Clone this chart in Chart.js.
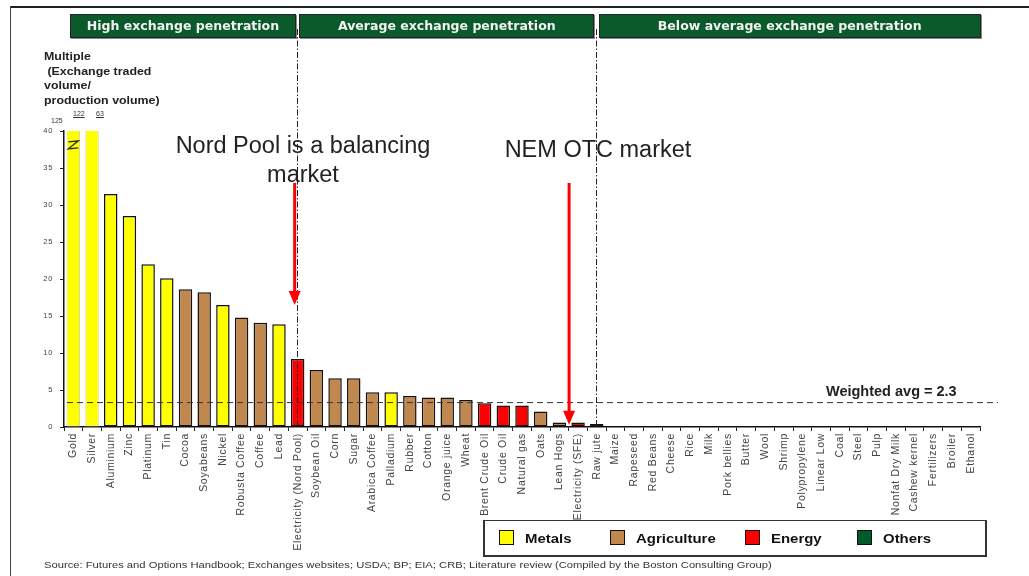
<!DOCTYPE html>
<html>
<head>
<meta charset="utf-8">
<script src="https://cdn.jsdelivr.net/npm/chart.js@4/dist/chart.umd.min.js"></script>
<style>
  body { margin: 0; background: #fff; font-family: 'Liberation Sans', Arial, sans-serif; }
  #wrap { position: relative; width: 1029px; height: 576px; overflow: hidden; }
  #chart { position: absolute; left: 0; top: 0; }
  .frame-top { position: absolute; left: 10px; top: 6px; width: 1019px; height: 2px; background: #222; }
  .frame-left { position: absolute; left: 10px; top: 6px; width: 1px; height: 570px; background: #444; }
  .hdr { position: absolute; top: 14px; height: 22px; background: #0b5a2c; border: 1px solid #222;
         box-shadow: 1px 1px 0 #888; color: #f2f2f2; font-family: 'DejaVu Sans Condensed', 'DejaVu Sans', sans-serif;
         font-weight: bold; font-size: 12px; line-height: 22px; text-align: center; }
  .hdr span { display: inline-block; transform: scaleX(1.16); }
  .ytitle { position: absolute; left: 44px; top: 49px; font-weight: bold; font-size: 10.5px; line-height: 14.5px;
            color: #222; white-space: pre; transform: scaleX(1.18); transform-origin: left top; }
  .small { position: absolute; font-size: 7px; color: #333; }
  .u { text-decoration: underline; }
  .note { position: absolute; font-size: 23.5px; color: #222; text-align: center; line-height: 29px; }
  .avg { position: absolute; left: 826px; top: 383px; font-size: 14.5px; font-weight: bold; color: #222; }
  .legend { position: absolute; left: 483px; top: 520px; width: 500px; height: 34px; border: 2px solid #333; border-top-width: 1px; }
  .item { position: absolute; top: 9px; font-weight: bold; font-size: 13px; color: #111; line-height: 16px; }
  .item b { display: inline-block; transform: scaleX(1.15); transform-origin: left center; }
  .sw { display: inline-block; width: 13px; height: 13px; border: 1px solid #111; vertical-align: -2px; margin-right: 11px; }
  .source { position: absolute; left: 44px; top: 559px; font-size: 9.5px; color: #333; white-space: nowrap;
            transform: scaleX(1.18); transform-origin: left top; }
</style>
</head>
<body>
<div id="wrap">
  <canvas id="chart" width="1029" height="576"></canvas>
  <div class="frame-top"></div>
  <div class="frame-left"></div>
  <div class="hdr" style="left:70px;width:224px;"><span>High exchange penetration</span></div>
  <div class="hdr" style="left:299px;width:293px;"><span>Average exchange penetration</span></div>
  <div class="hdr" style="left:599px;width:380px;"><span>Below average exchange penetration</span></div>
  <div class="ytitle">Multiple
 (Exchange traded
volume/
production volume)</div>
  <div class="small" style="left:51px;top:117px;">125</div>
  <div class="small u" style="left:73px;top:110px;">122</div>
  <div class="small u" style="left:96px;top:110px;">63</div>
  <div class="note" style="left:140px;top:131px;width:326px;">Nord Pool is a balancing<br>market</div>
  <div class="note" style="left:468px;top:135px;width:260px;">NEM OTC market</div>
  <div class="avg">Weighted avg = 2.3</div>
  <div class="legend">
    <div class="item" style="left:14px;"><span class="sw" style="background:#ffff00"></span><b>Metals</b></div>
    <div class="item" style="left:125px;"><span class="sw" style="background:#c0874f"></span><b>Agriculture</b></div>
    <div class="item" style="left:260px;"><span class="sw" style="background:#ff0000"></span><b>Energy</b></div>
    <div class="item" style="left:372px;"><span class="sw" style="background:#005a2c"></span><b>Others</b></div>
  </div>
  <div class="source">Source: Futures and Options Handbook; Exchanges websites; USDA; BP; EIA; CRB; Literature review (Compiled by the Boston Consulting Group)</div>
</div>
<script>
const commodities = ['Gold', 'Silver', 'Aluminium', 'Zinc', 'Platinum', 'Tin', 'Cocoa', 'Soyabeans', 'Nickel',
  'Robusta Coffee', 'Coffee', 'Lead', 'Electricity (Nord Pool)', 'Soybean Oil', 'Corn', 'Sugar', 'Arabica Coffee',
  'Palladium', 'Rubber', 'Cotton', 'Orange juice', 'Wheat', 'Brent Crude Oil', 'Crude Oil', 'Natural gas', 'Oats',
  'Lean Hogs', 'Electricity (SFE)', 'Raw jute', 'Maize', 'Rapeseed', 'Red Beans', 'Cheese', 'Rice', 'Milk',
  'Pork bellies', 'Butter', 'Wool', 'Shrimp', 'Polypropylene', 'Linear Low', 'Coal', 'Steel', 'Pulp',
  'Nonfat Dry Milk', 'Cashew kernel', 'Fertilizers', 'Broiler', 'Ethanol'];

const multiples = [122, 63, 31.5, 28.5, 22.0, 20.1, 18.6, 18.2, 16.5,
  14.8, 14.1, 13.9, 9.2, 7.7, 6.6, 6.6, 4.7,
  4.7, 4.2, 4.0, 4.0, 3.65, 3.2, 2.9, 2.9, 2.1,
  0.6, 0.6, 0.4, 0.1, 0.1, 0.1, 0.1, 0.1, 0.1,
  0, 0, 0, 0, 0, 0, 0, 0, 0,
  0, 0, 0, 0, 0];

const groups = ['Metals', 'Metals', 'Metals', 'Metals', 'Metals', 'Metals', 'Agriculture', 'Agriculture', 'Metals',
  'Agriculture', 'Agriculture', 'Metals', 'Energy', 'Agriculture', 'Agriculture', 'Agriculture', 'Agriculture',
  'Metals', 'Agriculture', 'Agriculture', 'Agriculture', 'Agriculture', 'Energy', 'Energy', 'Energy', 'Agriculture',
  'Agriculture', 'Energy', 'Agriculture', 'Agriculture', 'Agriculture', 'Agriculture', 'Agriculture', 'Agriculture', 'Agriculture',
  'Agriculture', 'Agriculture', 'Agriculture', 'Agriculture', 'Others', 'Others', 'Energy', 'Metals', 'Others',
  'Agriculture', 'Agriculture', 'Others', 'Agriculture', 'Energy'];

const yTicks = [0, 5, 10, 15, 20, 25, 30, 35, 40];
const weightedAvgLine = 3.3;   // where the dashed line sits in the picture
const sectionBreaks = ['Electricity (Nord Pool)', 'Raw jute'];

const groupColors = { Metals: '#ffff00', Agriculture: '#c0874f', Energy: '#ff0000', Others: '#005a2c' };

// extra drawing: average line, section dividers, arrows, axis break
const overlays = {
  id: 'overlays',
  beforeDraw(chart) {
    // the source image is stretched sideways, spread the x tick text a bit
    chart.ctx.letterSpacing = '0.7px';
  },
  beforeDatasetsDraw(chart) {
    // y axis is drawn after the datasets, keep its numbers compact
    chart.ctx.letterSpacing = '0px';
  },
  afterDatasetsDraw(chart) {
    const ctx = chart.ctx;
    const x = chart.scales.x, y = chart.scales.y;
    ctx.save();

    // weighted average
    ctx.strokeStyle = '#333';
    ctx.lineWidth = 1;
    ctx.setLineDash([6, 4]);
    ctx.beginPath();
    ctx.moveTo(x.left + 3, y.getPixelForValue(weightedAvgLine));
    ctx.lineTo(998, y.getPixelForValue(weightedAvgLine));
    ctx.stroke();

    // section dividers
    ctx.setLineDash([6, 2, 1.5, 2]);
    ctx.strokeStyle = '#222';
    sectionBreaks.forEach(name => {
      const px = Math.round(x.getPixelForValue(commodities.indexOf(name))) - 0.5;
      ctx.beginPath();
      ctx.moveTo(px, 29);
      ctx.lineTo(px, y.bottom);
      ctx.stroke();
    });
    ctx.setLineDash([]);

    // red arrows
    function arrow(px, fromY, toY) {
      ctx.strokeStyle = '#ff0000';
      ctx.fillStyle = '#ff0000';
      ctx.lineWidth = 3;
      ctx.beginPath();
      ctx.moveTo(px, fromY);
      ctx.lineTo(px, toY - 12);
      ctx.stroke();
      ctx.beginPath();
      ctx.moveTo(px - 6, toY - 14);
      ctx.lineTo(px + 6, toY - 14);
      ctx.lineTo(px, toY);
      ctx.closePath();
      ctx.fill();
    }
    arrow(x.getPixelForValue(commodities.indexOf('Electricity (Nord Pool)')) - 3, 183, y.getPixelForValue(16.5));
    arrow(x.getPixelForValue(commodities.indexOf('Electricity (SFE)')) - 9, 183, y.getPixelForValue(0.3));

    // axis break mark on Gold
    const gx = x.getPixelForValue(0);
    const gy = y.getPixelForValue(38);
    ctx.strokeStyle = '#222';
    ctx.lineWidth = 1.3;
    ctx.beginPath();
    ctx.moveTo(gx - 5, gy - 4);
    ctx.lineTo(gx + 5, gy - 5);
    ctx.lineTo(gx - 5, gy + 3);
    ctx.lineTo(gx + 5, gy + 2);
    ctx.stroke();
    ctx.restore();
  }
};

Chart.defaults.font.family = "'Liberation Sans', Arial, sans-serif";

new Chart(document.getElementById('chart').getContext('2d'), {
  type: 'bar',
  data: {
    labels: commodities,
    datasets: [{
      label: 'Multiple',
      data: multiples,
      backgroundColor: ctx => groupColors[groups[ctx.dataIndex]],
      borderColor: ctx => ctx.dataIndex < 2 ? '#d6d690' : '#111',
      borderWidth: ctx => (multiples[ctx.dataIndex] > 0 ? (ctx.dataIndex < 2 ? 1 : 1.5) : 0),
      borderSkipped: false,
      barPercentage: 0.72,
      categoryPercentage: 1
    }]
  },
  options: {
    responsive: false,
    animation: false,
    layout: { padding: { left: 0, top: 131, right: 49, bottom: 0 } },
    plugins: { legend: { display: false }, tooltip: { enabled: false } },
    scales: {
      x: {
        afterFit: s => { s.height = 149; },
        grid: { drawOnChartArea: false, drawTicks: true, tickLength: 4, color: '#222', offset: true },
        border: { color: '#111', width: 1.5 },
        ticks: { minRotation: 90, maxRotation: 90, autoSkip: false, padding: 2, color: '#444', font: { size: 10.5 } }
      },
      y: {
        min: 0,
        max: 40,
        z: 1,
        afterFit: s => { s.width = 64; },
        afterBuildTicks: s => { s.ticks = yTicks.map(v => ({ value: v })); },
        grid: { drawOnChartArea: false, drawTicks: true, tickLength: 4, color: '#222' },
        border: { color: '#111', width: 1.5 },
        ticks: { padding: 7, color: '#444', font: { size: 7.5 } }
      }
    }
  },
  plugins: [overlays]
});
</script>
</body>
</html>
